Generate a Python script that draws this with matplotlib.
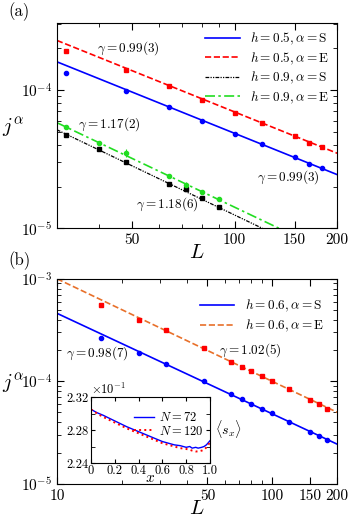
import numpy as np
import matplotlib
matplotlib.use("Agg")
import matplotlib.pyplot as plt
from matplotlib.ticker import LogLocator, NullFormatter, FixedLocator, FixedFormatter, LogFormatterMathtext

plt.rcParams['font.family'] = 'serif'
plt.rcParams['font.serif'] = ['cmr10', 'DejaVu Serif']
plt.rcParams['mathtext.fontset'] = 'cm'
plt.rcParams['axes.formatter.use_mathtext'] = True

# ---- panel (a) data ----
La_05 = [32, 48, 64, 80, 100, 120, 150, 165, 180]
ja_05_S = [1.33e-4, 9.9e-5, 7.5e-5, 5.93e-5, 4.82e-5, 4.06e-5, 3.29e-5, 2.92e-5, 2.71e-5]
ja_05_E = [1.90e-4, 1.40e-4, 1.07e-4, 8.47e-5, 6.85e-5, 5.77e-5, 4.67e-5, 4.15e-5, 3.86e-5]
ea_05_E = [0.05e-4, 0.03e-4, 0.02e-4, 0.2e-5, 0.15e-5, 0.15e-5, 0.15e-5, 0.12e-5, 0.12e-5]
La_09 = [32, 40, 48, 64, 72, 80, 90]
ja_09_S = [4.72e-5, 3.72e-5, 3.01e-5, 2.10e-5, 1.91e-5, 1.66e-5, 1.42e-5]
ja_09_E = [5.42e-5, 4.15e-5, 3.51e-5, 2.38e-5, 2.07e-5, 1.83e-5, 1.63e-5]
ea_09_E = [0.1e-5, 0.1e-5, 0.25e-5, 0.08e-5, 0.08e-5, 0.06e-5, 0.06e-5]
# fits j = c * L^-gamma
fit_a = {'S05': (4.63e-3, 0.99), 'E05': (6.61e-3, 0.99),
         'S09': (2.85e-3, 1.18), 'E09': (3.10e-3, 1.17)}

# ---- panel (b) data ----
Lb = [16, 24, 32, 48, 64, 72, 80, 90, 100, 120, 150, 165, 180]
jb_S = [2.62e-4, 1.88e-4, 1.47e-4, 1.0e-4, 7.46e-5, 6.70e-5, 6.08e-5, 5.44e-5,
        4.93e-5, 4.03e-5, 3.18e-5, 2.94e-5, 2.66e-5]
jb_E = [5.56e-4, 3.96e-4, 3.16e-4, 2.12e-4, 1.56e-4, 1.39e-4, 1.25e-4, 1.13e-4,
        1.0e-4, 8.41e-5, 6.62e-5, 6.04e-5, 5.40e-5]
fit_b = {'S': (4.40e-3, 0.98), 'E': (1.0e-2, 1.0)}

# ---- inset data (units of 1e-1) ----
x_in = [0, 0.05, 0.1, 0.2, 0.3, 0.4, 0.5, 0.6, 0.65, 0.7, 0.75, 0.8, 0.83,
        0.85, 0.88, 0.9, 0.93, 0.95, 0.97, 1.0]
sx_72 = [2.305, 2.301, 2.298, 2.291, 2.284, 2.278, 2.272, 2.266, 2.264, 2.262,
         2.261, 2.259, 2.260, 2.258, 2.259, 2.258, 2.259, 2.260, 2.262, 2.267]
sx_120 = [2.305, 2.300, 2.296, 2.289, 2.282, 2.276, 2.270, 2.264, 2.262, 2.260,
          2.258, 2.257, 2.256, 2.255, 2.254, 2.254, 2.255, 2.256, 2.259, 2.265]

fig = plt.figure(figsize=(3.49, 5.21), dpi=100)
ax1 = fig.add_axes([0.163, 0.562, 0.803, 0.394])
ax2 = fig.add_axes([0.163, 0.071, 0.803, 0.394])


def style_log(ax, xt):
    ax.set_xscale('log')
    ax.set_yscale('log')
    ax.xaxis.set_major_locator(FixedLocator(xt))
    ax.xaxis.set_major_formatter(FixedFormatter([str(v) for v in xt]))
    ax.xaxis.set_minor_locator(LogLocator(base=10, subs=np.arange(2, 10), numticks=20))
    ax.xaxis.set_minor_formatter(NullFormatter())
    ax.yaxis.set_major_locator(LogLocator(base=10, numticks=10))
    ax.yaxis.set_major_formatter(LogFormatterMathtext())
    ax.yaxis.set_minor_locator(LogLocator(base=10, subs=np.arange(2, 10), numticks=20))
    ax.yaxis.set_minor_formatter(NullFormatter())
    ax.tick_params(which='both', direction='in', top=True, right=True, labelsize=11)
    ax.tick_params(which='major', length=5)
    ax.tick_params(which='minor', length=3)
    ax.set_xlabel(r'$L$', fontsize=15, labelpad=-2)
    ax.set_ylabel(r'$j^{\alpha}$', fontsize=15, rotation=0, ha='center', va='center')
    ax.yaxis.set_label_coords(-0.158, 0.49)


# panel (a)
Lf = np.array([30, 200], dtype=float)
c, g = fit_a['S05']
ax1.plot(Lf, c * Lf ** -g, '-', color='blue', lw=1.2, label=r'$h=0.5, \alpha=\mathrm{S}$')
c, g = fit_a['E05']
ax1.plot(Lf, c * Lf ** -g, '--', color='red', lw=1.2, label=r'$h=0.5, \alpha=\mathrm{E}$')
c, g = fit_a['S09']
ax1.plot(Lf, c * Lf ** -g, color='black', lw=0.9, dashes=(3, 1, 1, 1, 1, 1),
         label=r'$h=0.9, \alpha=\mathrm{S}$')
c, g = fit_a['E09']
ax1.plot(Lf, c * Lf ** -g, color='#22dd22', lw=1.2, dashes=(6, 2, 1.5, 2),
         label=r'$h=0.9, \alpha=\mathrm{E}$')
ax1.plot(La_05, ja_05_S, 'o', color='blue', ms=3)
ax1.errorbar(La_05, ja_05_E, yerr=ea_05_E, fmt='s', color='red', ms=2.5, elinewidth=0.8, capsize=0)
ax1.plot(La_09, ja_09_S, 's', color='black', ms=2.5)
ax1.errorbar(La_09, ja_09_E, yerr=ea_09_E, fmt='o', color='#22dd22', ms=3, elinewidth=0.8, capsize=0)
ax1.set_xlim(30, 200)
ax1.set_ylim(1e-5, 3.05e-4)
style_log(ax1, [50, 100, 150, 200])
ax1.legend(loc='upper right', fontsize=9.5, frameon=False, handlelength=2.6,
           borderaxespad=0.2, labelspacing=0.25, handletextpad=0.8)
kw = dict(fontsize=9.5, ha='center', va='center')
ax1.text(0.254, 0.878, r'$\gamma = 0.99(3)$', transform=ax1.transAxes, **kw)
ax1.text(0.189, 0.507, r'$\gamma = 1.17(2)$', transform=ax1.transAxes, **kw)
ax1.text(0.396, 0.117, r'$\gamma = 1.18(6)$', transform=ax1.transAxes, **kw)
ax1.text(0.825, 0.249, r'$\gamma = 0.99(3)$', transform=ax1.transAxes, **kw)
fig.text(0.023, 0.977, '(a)', fontsize=12, ha='left', va='center')

# panel (b)
Lf = np.array([10, 200], dtype=float)
c, g = fit_b['S']
ax2.plot(Lf, c * Lf ** -g, '-', color='blue', lw=1.2, label=r'$h=0.6, \alpha=\mathrm{S}$')
c, g = fit_b['E']
ax2.plot(Lf, c * Lf ** -g, '--', color='#e8702a', lw=1.2, label=r'$h=0.6, \alpha=\mathrm{E}$')
ax2.plot(Lb, jb_S, 'o', color='blue', ms=3)
ax2.plot(Lb, jb_E, 's', color='red', ms=2.5)
ax2.set_xlim(10, 200)
ax2.set_ylim(1e-5, 1e-3)
style_log(ax2, [10, 50, 100, 150, 200])
ax2.legend(loc='upper right', fontsize=9.5, frameon=False, handlelength=2.6,
           borderaxespad=0.6, labelspacing=0.25, handletextpad=0.8,
           bbox_to_anchor=(1.0, 0.97))
ax2.text(0.143, 0.639, r'$\gamma = 0.98(7)$', transform=ax2.transAxes, **kw)
ax2.text(0.689, 0.654, r'$\gamma = 1.02(5)$', transform=ax2.transAxes, **kw)
fig.text(0.023, 0.499, '(b)', fontsize=12, ha='left', va='center')

# inset
axi = fig.add_axes([91 / 349, 1 - 463 / 521, 119 / 349, 66 / 521])
axi.plot(x_in, sx_72, '-', color='blue', lw=1.0, label=r'$N = 72$')
axi.plot(x_in, sx_120, ':', color='red', lw=1.4, label=r'$N = 120$')
axi.set_xlim(0, 1)
axi.set_ylim(2.24, 2.32)
axi.set_xticks([0, 0.2, 0.4, 0.6, 0.8, 1.0])
axi.set_xticklabels(['0', '0.2', '0.4', '0.6', '0.8', '1.0'])
axi.set_yticks([2.24, 2.28, 2.32])
axi.set_yticklabels(['2.24', '2.28', '2.32'])
axi.set_yticks([2.26, 2.30], minor=True)
axi.tick_params(which='both', direction='in', labelsize=9, pad=1.5, length=3,
                top=True, right=True)
axi.set_xlabel(r'$x$', fontsize=11, labelpad=-4)
axi.text(0.0, 1.0, r'$\times10^{-1}$', transform=axi.transAxes, fontsize=9,
         ha='left', va='bottom')
axi.text(1.04, 0.51, r'$\langle s_x \rangle$', transform=axi.transAxes, fontsize=10,
         ha='left', va='center')
axi.legend(loc='upper right', fontsize=9, frameon=False, handlelength=1.6,
           borderaxespad=0.1, labelspacing=0.05, handletextpad=0.4,
           bbox_to_anchor=(1.0, 0.88))

fig.savefig('out.png', dpi=100)
